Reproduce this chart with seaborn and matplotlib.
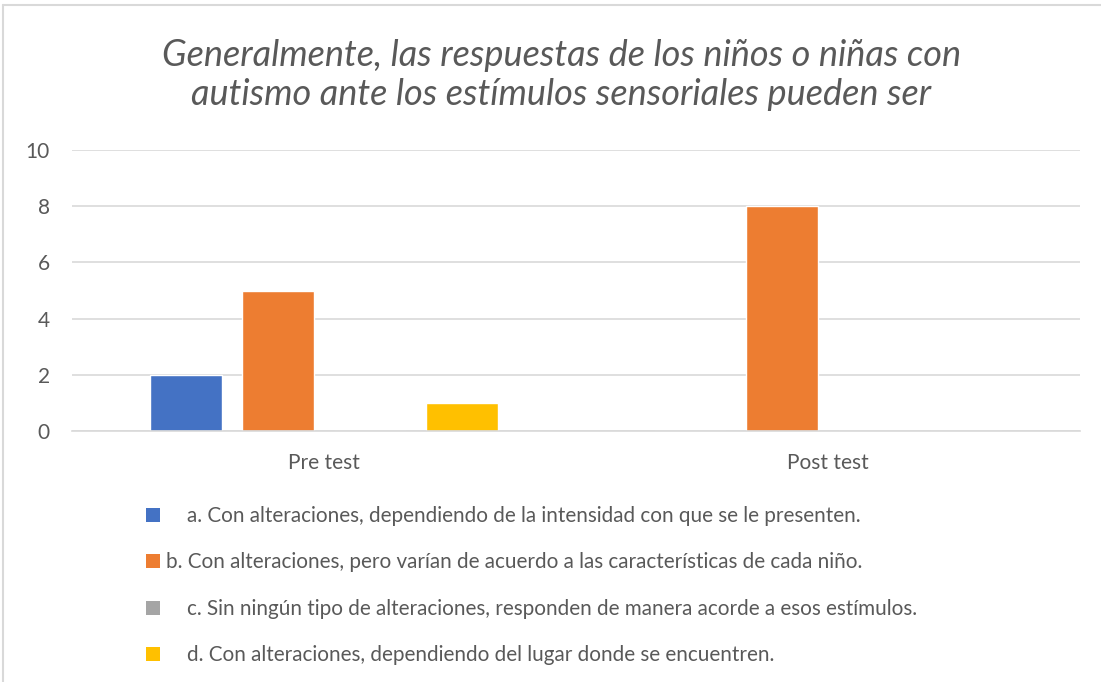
import pandas as pd
import matplotlib.pyplot as plt
import seaborn as sns
from matplotlib.patches import Patch
from matplotlib.lines import Line2D

# Chart data
groups = ["Pre test", "Post test"]
answers = [
    "    a. Con alteraciones, dependiendo de la intensidad con que se le presenten.",
    "b. Con alteraciones, pero varían de acuerdo a las características de cada niño.",
    "    c. Sin ningún tipo de alteraciones, responden de manera acorde a esos estímulos.",
    "    d. Con alteraciones, dependiendo del lugar donde se encuentren.",
]
pre_values = [2, 5, 0, 1]
post_values = [0, 8, 0, 0]
colors = ["#4472C4", "#ED7D31", "#A5A5A5", "#FFC000"]
title = "Generalmente, las respuestas de los niños o niñas con\nautismo ante los estímulos sensoriales pueden ser"

# Long table for seaborn
df = pd.DataFrame({
    "grupo": [groups[0]] * len(answers) + [groups[1]] * len(answers),
    "respuesta": answers + answers,
    "valor": pre_values + post_values,
})

sns.set_style("white")
plt.rcParams['font.family'] = ['Lato', 'DejaVu Sans']
text_color = "#595959"

fig = plt.figure(figsize=(11.01, 6.82), dpi=100)
ax = fig.add_axes([72 / 1101, 1 - 431 / 682, 1008 / 1101, 281 / 682])

sns.barplot(data=df, x="grupo", y="valor", hue="respuesta", order=groups,
            hue_order=answers, palette=colors, width=0.73, gap=0.217,
            saturation=1, legend=False, ax=ax)

ax.set_xlim(-0.5, 1.5)
ax.set_ylim(0, 10)
ax.set_yticks(range(0, 11, 2))
ax.yaxis.grid(True, color="#D9D9D9", linewidth=1.2)
ax.set_axisbelow(True)
for side in ["top", "right", "left"]:
    ax.spines[side].set_visible(False)
ax.spines["bottom"].set_color("#D9D9D9")
ax.spines["bottom"].set_linewidth(1.2)
ax.tick_params(axis="both", length=0, labelsize=15, colors=text_color)
ax.tick_params(axis="x", pad=16)
ax.tick_params(axis="y", pad=16)
ax.set_xlabel("")
ax.set_ylabel("")

fig.text(0.51, 1 - 75 / 682, title, ha="center", va="center", fontsize=26,
         style="italic", color=text_color, linespacing=1.25)

# Legend below the plot
handles = [Patch(facecolor=c, edgecolor="none") for c in colors]
fig.legend(handles, answers, loc="upper left", bbox_to_anchor=(146 / 1101, 1 - 506 / 682),
           frameon=False, fontsize=14.9, labelcolor=text_color, handlelength=0.68,
           handleheight=0.68, handletextpad=0.3, labelspacing=1.28,
           borderaxespad=0, borderpad=0)

# Chart border (top and left edges visible)
fig.add_artist(Line2D([3 / 1101, 3 / 1101], [0, 1 - 5 / 682], color="#D9D9D9", linewidth=1.5))
fig.add_artist(Line2D([3 / 1101, 1], [1 - 5 / 682, 1 - 5 / 682], color="#D9D9D9", linewidth=1.5))

fig.savefig("out.png", dpi=100)
